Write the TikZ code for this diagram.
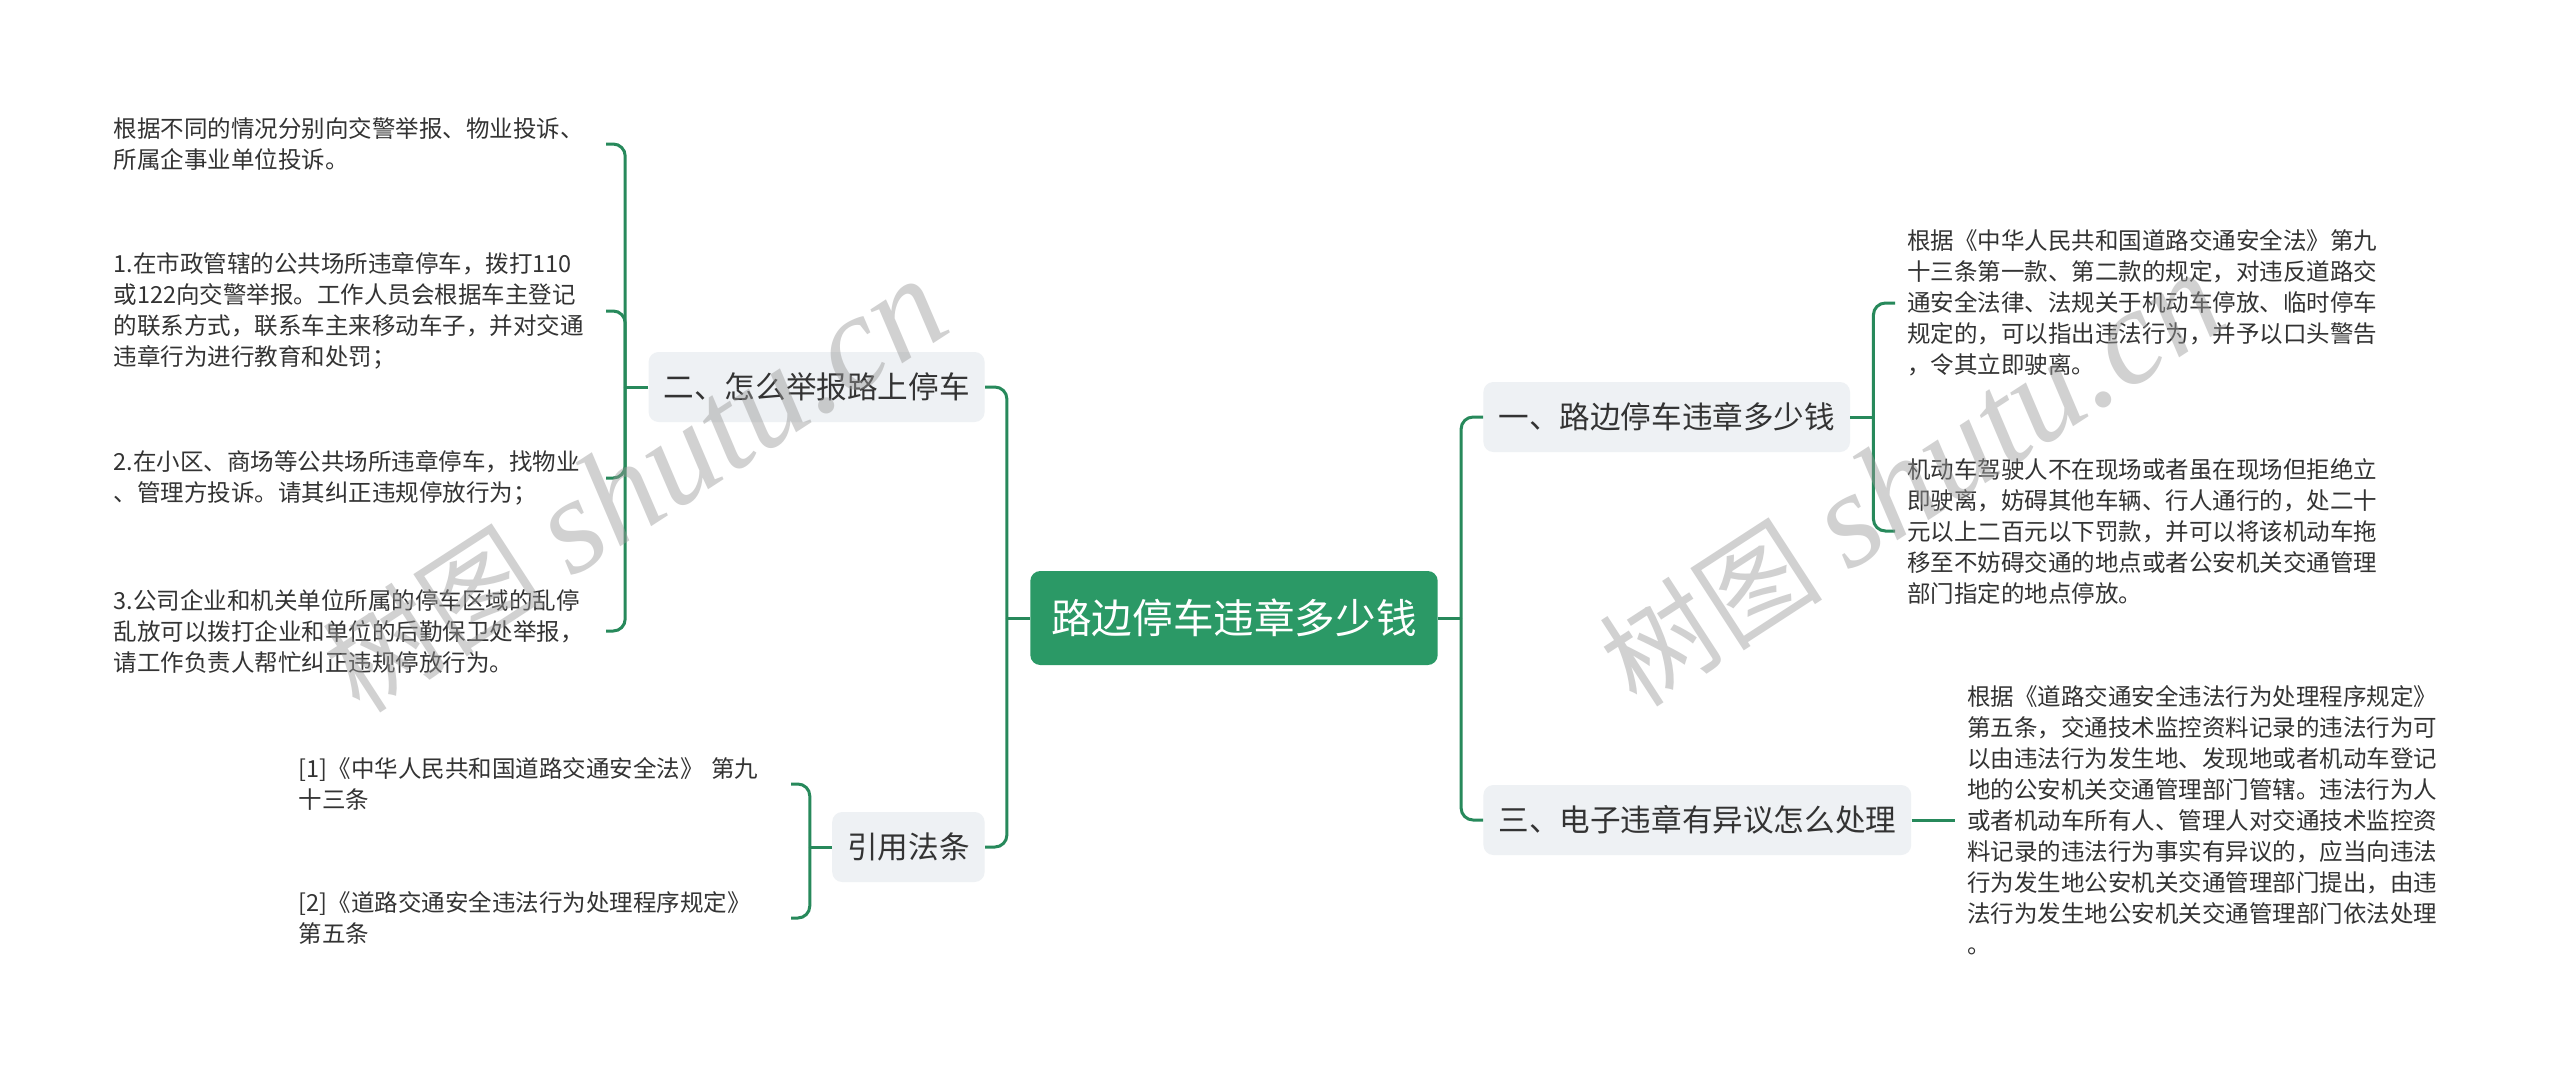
\documentclass[tikz,border=0pt]{standalone}
\usepackage{fontspec}
\setmainfont{Noto Sans CJK SC}
\newfontfamily\wmlatin{Liberation Serif}
\definecolor{rootgreen}{HTML}{2B9966}
\definecolor{linkgreen}{HTML}{27895B}
\definecolor{topicfill}{HTML}{EEF1F4}
\definecolor{ink}{HTML}{333333}

\begin{document}
\begin{tikzpicture}[x=0.5pt, y=-0.5pt, every node/.style={text=ink},
	link/.style={linkgreen, line width=1.5pt, rounded corners=6pt},
	rootbox/.style={fill=rootgreen, text=white, rounded corners=5pt, inner xsep=10.5pt, minimum height=47pt, font=\fontsize{20.3pt}{24pt}\selectfont},
	topic/.style={fill=topicfill, rounded corners=5pt, inner xsep=7.5pt, minimum height=35pt, font=\fontsize{15.3pt}{18pt}\selectfont},
	leaf/.style={align=left, text width=240pt, inner xsep=6pt, inner ysep=0pt, font=\fontsize{11.75pt}{15.5pt}\selectfont},
	wm/.style={text=black!40, text opacity=0.45, inner sep=0pt, rotate=33, anchor=base west}]
	\fill[white] (0,0) rectangle (2560,1073);
	\useasboundingbox (0,0) rectangle (2560,1073);

	\node[rootbox] (root) at (1234,618) {路边停车违章多少钱};

	\node[topic, anchor=east] (sec2) at (985,387) {二、怎么举报路上停车};
	\node[topic, anchor=east] (cite) at (985,847) {引用法条};
	\node[topic, anchor=west] (sec1) at (1483,417) {一、路边停车违章多少钱};
	\node[topic, anchor=west] (sec3) at (1483,820) {三、电子违章有异议怎么处理};

	\node[leaf, anchor=east] (sec2a) at (606,144) {根据不同的情况分别向交警举报、物业投诉、\\所属企事业单位投诉。};
	\node[leaf, anchor=east] (sec2b) at (606,311) {1.在市政管辖的公共场所违章停车，拨打110\\或122向交警举报。工作人员会根据车主登记\\的联系方式，联系车主来移动车子，并对交通\\违章行为进行教育和处罚；};
	\node[leaf, anchor=east] (sec2c) at (606,478) {2.在小区、商场等公共场所违章停车，找物业\\、管理方投诉。请其纠正违规停放行为；};
	\node[leaf, anchor=east] (sec2d) at (606,631) {3.公司企业和机关单位所属的停车区域的乱停\\乱放可以拨打企业和单位的后勤保卫处举报，\\请工作负责人帮忙纠正违规停放行为。};

	\node[leaf, anchor=east] (citea) at (791,784) {[1]《中华人民共和国道路交通安全法》 第九\\十三条};
	\node[leaf, anchor=east] (citeb) at (791,918) {[2]《道路交通安全违法行为处理程序规定》\\第五条};

	\node[leaf, anchor=west] (sec1a) at (1895,303) {根据《中华人民共和国道路交通安全法》第九\\十三条第一款、第二款的规定，对违反道路交\\通安全法律、法规关于机动车停放、临时停车\\规定的，可以指出违法行为，并予以口头警告\\，令其立即驶离。};
	\node[leaf, anchor=west] (sec1b) at (1895,531) {机动车驾驶人不在现场或者虽在现场但拒绝立\\即驶离，妨碍其他车辆、行人通行的，处二十\\元以上二百元以下罚款，并可以将该机动车拖\\移至不妨碍交通的地点或者公安机关交通管理\\部门指定的地点停放。};

	\node[leaf, anchor=west] (sec3a) at (1955,820) {根据《道路交通安全违法行为处理程序规定》\\第五条，交通技术监控资料记录的违法行为可\\以由违法行为发生地、发现地或者机动车登记\\地的公安机关交通管理部门管辖。违法行为人\\或者机动车所有人、管理人对交通技术监控资\\料记录的违法行为事实有异议的，应当向违法\\行为发生地公安机关交通管理部门提出，由违\\法行为发生地公安机关交通管理部门依法处理\\。};

	\coordinate (jl) at ([xshift=-11.5pt]root.west);
	\coordinate (jr) at ([xshift=11.5pt]root.east);
	\coordinate (j2) at ([xshift=-11.5pt]sec2.west);
	\coordinate (jc) at ([xshift=-11pt]cite.west);
	\coordinate (j1) at ([xshift=11.5pt]sec1.east);

	\draw[link] (root.west) -- (jl);
	\draw[link] (root.east) -- (jr);
	\foreach \t in {sec2,cite}
		\draw[link] (jl) |- (\t.east);
	\foreach \t in {sec1,sec3}
		\draw[link] (jr) |- (\t.west);

	\draw[link] (sec2.west) -- (j2);
	\foreach \l in {sec2a,sec2b,sec2c,sec2d}
		\draw[link] (j2) |- (\l.east);
	\draw[link] (cite.west) -- (jc);
	\foreach \l in {citea,citeb}
		\draw[link] (jc) |- (\l.east);
	\draw[link] (sec1.east) -- (j1);
	\foreach \l in {sec1a,sec1b}
		\draw[link] (j1) |- (\l.west);
	\draw[link] (sec3.east) -- (sec3a.west);

	\node[wm] (mark1) at (360,716) {{\fontsize{56pt}{56pt}\selectfont 树图}\hspace{14pt}{\wmlatin\itshape\fontsize{68pt}{68pt}\selectfont shutu.cn}};
	\node[wm] (mark2) at (1637,710) {{\fontsize{56pt}{56pt}\selectfont 树图}\hspace{14pt}{\wmlatin\itshape\fontsize{68pt}{68pt}\selectfont shutu.cn}};
\end{tikzpicture}
\end{document}
